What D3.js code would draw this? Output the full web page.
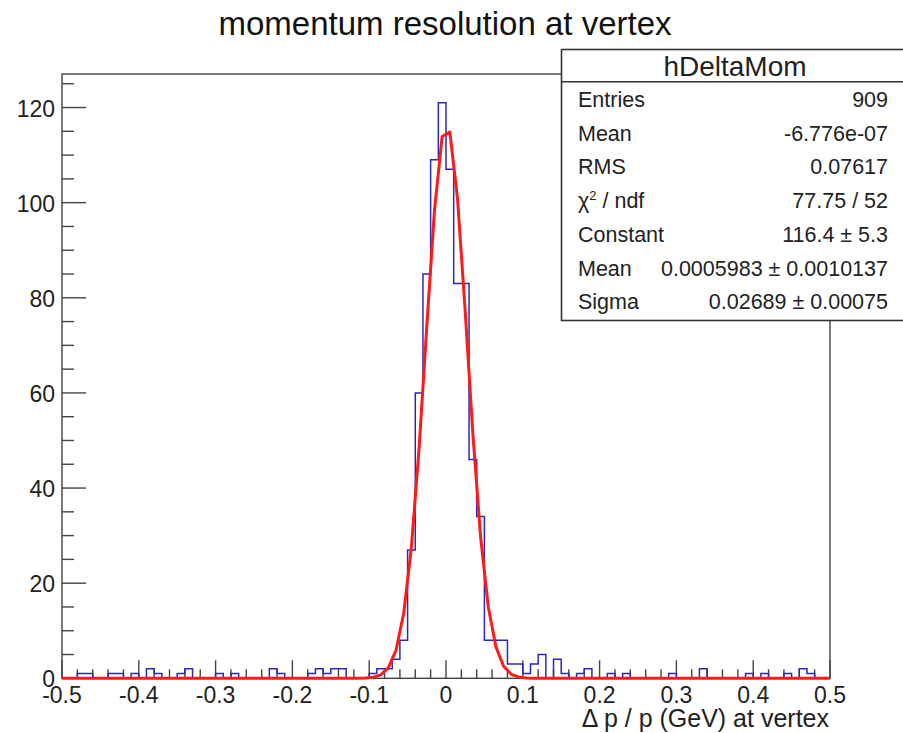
<!DOCTYPE html>
<html>
<head>
<meta charset="utf-8">
<script src="https://cdn.jsdelivr.net/npm/d3@7"></script>
<style>
  html, body { margin: 0; padding: 0; background: #fff; }
  svg { display: block; font-family: "Liberation Sans", Arial, Helvetica, sans-serif; }
</style>
</head>
<body>
<svg id="chart" width="903" height="733"></svg>
<script>
// ---------------- data ----------------
const chartTitle = "momentum resolution at vertex";
const xAxisTitle = "\u0394 p / p (GeV) at vertex";
const histName = "hDeltaMom";
const xRange = [-0.5, 0.5];
const binWidth = 0.01;
// counts per bin, bins from -0.5 to 0.5 in steps of 0.01
const binCounts = [
  0, 0, 1, 1, 0, 0, 1, 1, 0, 1,
  0, 2, 1, 0, 0, 1, 2, 0, 0, 0,
  1, 0, 1, 0, 0, 0, 0, 2, 1, 0,
  0, 0, 1, 2, 1, 2, 2, 0, 0, 0,
  1, 2, 2, 4, 8, 27, 60, 85, 109, 121,
  107, 83, 83, 46, 34, 8, 8, 8, 3, 3,
  1, 3, 5, 0, 4, 1, 0, 1, 2, 0,
  0, 1, 0, 1, 0, 0, 0, 0, 0, 1,
  0, 0, 0, 2, 0, 0, 0, 0, 0, 1,
  0, 1, 0, 0, 1, 0, 2, 1, 0, 0
];
const xTickValues = [-0.5, -0.4, -0.3, -0.2, -0.1, 0, 0.1, 0.2, 0.3, 0.4, 0.5];
const xTickLabels = ["-0.5", "-0.4", "-0.3", "-0.2", "-0.1", "0", "0.1", "0.2", "0.3", "0.4", "0.5"];
const yTickValues = [0, 20, 40, 60, 80, 100, 120];
const yMax = 127.05;
// Gaussian fit parameters (from the stats box)
const fitConstant = 116.4;
const fitMean = 0.0005983;
const fitSigma = 0.02689;
// stats box rows
const statLabels = ["Entries", "Mean", "RMS", "CHI2", "Constant", "Mean", "Sigma"];
const statValues = ["909", "-6.776e-07", "0.07617", "77.75 / 52", "116.4 \u00b1 5.3", "0.0005983 \u00b1 0.0010137", "0.02689 \u00b1 0.00075"];

// ---------------- layout ----------------
const svg = d3.select("#chart");
const plot = { left: 62, right: 830, top: 74, bottom: 678.3 };

const x = d3.scaleLinear().domain(xRange).range([plot.left, plot.right]);
const y = d3.scaleLinear().domain([0, yMax]).range([plot.bottom, plot.top]);

// title
svg.append("text")
  .attr("x", 445).attr("y", 35)
  .attr("text-anchor", "middle")
  .attr("font-size", 33)
  .attr("fill", "#111")
  .text(chartTitle);

// frame
svg.append("rect")
  .attr("x", plot.left).attr("y", plot.top)
  .attr("width", plot.right - plot.left).attr("height", plot.bottom - plot.top)
  .attr("fill", "none").attr("stroke", "#444").attr("stroke-width", 1.4);

// x ticks (inside)
const xMinor = d3.range(-0.5, 0.5001, 0.02).map(v => +v.toFixed(2));
const gx = svg.append("g").attr("stroke", "#444").attr("stroke-width", 1.4);
xMinor.forEach(v => {
  const major = Math.abs(Math.round(v * 10) - v * 10) < 1e-6;
  gx.append("line")
    .attr("x1", x(v)).attr("x2", x(v))
    .attr("y1", plot.bottom).attr("y2", plot.bottom - (major ? 18 : 9));
});
svg.append("g").selectAll("text").data(xTickValues).join("text")
  .attr("x", d => x(d)).attr("y", 703)
  .attr("text-anchor", "middle").attr("font-size", 23).attr("fill", "#222")
  .text((d, i) => xTickLabels[i]);

svg.append("text")
  .attr("x", 829).attr("y", 727)
  .attr("text-anchor", "end").attr("font-size", 25).attr("fill", "#222")
  .text(xAxisTitle);

// y ticks (inside)
const yMinor = d3.range(0, 126, 5);
const gy = svg.append("g").attr("stroke", "#444").attr("stroke-width", 1.4);
yMinor.forEach(v => {
  const major = v % 20 === 0;
  gy.append("line")
    .attr("x1", plot.left).attr("x2", plot.left + (major ? 24 : 12))
    .attr("y1", y(v)).attr("y2", y(v));
});
svg.append("g").selectAll("text").data(yTickValues).join("text")
  .attr("x", 55).attr("y", d => y(d) + 9)
  .attr("text-anchor", "end").attr("font-size", 23).attr("fill", "#222")
  .text(d => d);

// histogram outline
const pts = [[xRange[0], 0]];
binCounts.forEach((c, i) => {
  const x0 = xRange[0] + i * binWidth;
  pts.push([x0, c], [x0 + binWidth, c]);
});
pts.push([xRange[1], 0]);
const line = d3.line().x(d => x(d[0])).y(d => y(d[1]));
svg.append("path")
  .attr("d", line(pts))
  .attr("fill", "none").attr("stroke", "#2a2ab8").attr("stroke-width", 1.5)
  .attr("stroke-linejoin", "miter");

// fit curve, evaluated at bin centres
const gauss = v => fitConstant * Math.exp(-0.5 * Math.pow((v - fitMean) / fitSigma, 2));
const fitPts = [[xRange[0], gauss(xRange[0])]];
binCounts.forEach((c, i) => {
  const xc = xRange[0] + (i + 0.5) * binWidth;
  fitPts.push([xc, gauss(xc)]);
});
fitPts.push([xRange[1], gauss(xRange[1])]);
svg.append("path")
  .attr("d", line(fitPts))
  .attr("fill", "none").attr("stroke", "#ff1a1a").attr("stroke-width", 3)
  .attr("stroke-linejoin", "round");

// stats box
const box = { x: 561.5, y: 49.5, w: 345, h: 271 };
svg.append("rect")
  .attr("x", box.x).attr("y", box.y).attr("width", box.w).attr("height", box.h)
  .attr("fill", "#fff").attr("stroke", "#333").attr("stroke-width", 1.6);
svg.append("line")
  .attr("x1", box.x).attr("x2", box.x + box.w)
  .attr("y1", 81.7).attr("y2", 81.7)
  .attr("stroke", "#333").attr("stroke-width", 1.6);
svg.append("text")
  .attr("x", 735).attr("y", 76)
  .attr("text-anchor", "middle").attr("font-size", 28).attr("fill", "#222")
  .text(histName);

const rowY = i => 107 + i * 33.7;
statLabels.forEach((lab, i) => {
  const t = svg.append("text")
    .attr("x", 578).attr("y", rowY(i))
    .attr("font-size", 21.5).attr("fill", "#222");
  if (lab === "CHI2") {
    t.append("tspan").text("\u03c7");
    t.append("tspan").attr("font-size", 13).attr("dy", -8).text("2");
    t.append("tspan").attr("dy", 8).text(" / ndf");
  } else {
    t.text(lab);
  }
  svg.append("text")
    .attr("x", 888).attr("y", rowY(i))
    .attr("text-anchor", "end")
    .attr("font-size", 21.5).attr("fill", "#222")
    .text(statValues[i]);
});
</script>
</body>
</html>
